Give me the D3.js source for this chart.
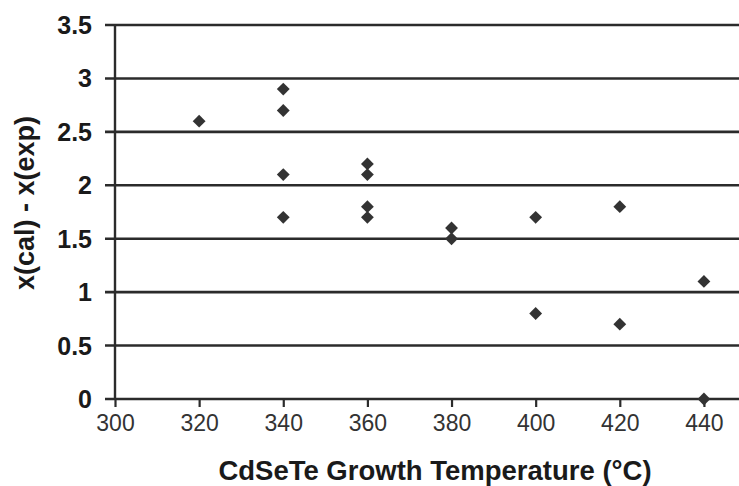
<!DOCTYPE html>
<html>
<head>
<meta charset="utf-8">
<script src="https://cdn.jsdelivr.net/npm/d3@7"></script>
<style>
  html, body { margin: 0; padding: 0; background: #fff; }
  svg { display: block; font-family: Arial, "Liberation Sans", Helvetica, sans-serif; }
</style>
</head>
<body>
<svg id="chart" width="739" height="486"></svg>
<script>
// Data
const temperatures = [320, 340, 340, 340, 340, 360, 360, 360, 360, 380, 380, 400, 400, 420, 420, 440, 440];
const differences  = [2.6, 2.9, 2.7, 2.1, 1.7, 2.2, 2.1, 1.8, 1.7, 1.6, 1.5, 1.7, 0.8, 1.8, 0.7, 1.1, 0.0];
const xTicks = [300, 320, 340, 360, 380, 400, 420, 440];
const yTicks = [0, 0.5, 1, 1.5, 2, 2.5, 3, 3.5];
const xTitle = "CdSeTe Growth Temperature (\u00B0C)";
const yTitle = "x(cal) - x(exp)";

const svg = d3.select("#chart");
const x = d3.scaleLinear().domain([300, 450]).range([115, 746]);
const y = d3.scaleLinear().domain([0, 3.5]).range([399, 25]);

// horizontal gridlines
svg.append("g").selectAll("line").data(yTicks).join("line")
  .attr("x1", x(300) - 10).attr("x2", x(450))
  .attr("y1", d => y(d)).attr("y2", d => y(d))
  .attr("stroke", "#2b2b2b").attr("stroke-width", 2.6);

// y axis line
svg.append("line")
  .attr("x1", x(300)).attr("x2", x(300))
  .attr("y1", y(3.5)).attr("y2", y(0) + 1)
  .attr("stroke", "#2b2b2b").attr("stroke-width", 2.4);

// y tick labels
svg.append("g").selectAll("text").data(yTicks).join("text")
  .attr("x", 92).attr("y", d => y(d)).attr("dy", "0.36em")
  .attr("text-anchor", "end")
  .attr("font-size", 25).attr("font-weight", "bold").attr("fill", "#1a1a1a")
  .text(d => d3.format("")(d));

// x ticks
const xAxis = d3.axisBottom(x).tickValues(xTicks).tickSize(8).tickPadding(8).tickFormat(d3.format("d"));
const gx = svg.append("g").attr("transform", `translate(0,${y(0)})`).call(xAxis);
gx.select(".domain").remove();
gx.selectAll(".tick line").attr("stroke", "#2b2b2b").attr("stroke-width", 2.2);
gx.selectAll(".tick text")
  .attr("font-size", 23).attr("fill", "#333")
  .attr("font-family", "Arial, 'Liberation Sans', sans-serif");

// points (diamonds)
const sym = d3.symbol().type(d3.symbolDiamond2).size(105);
svg.append("g").selectAll("path").data(temperatures).join("path")
  .attr("transform", (d, i) => `translate(${x(d)},${y(differences[i])})`)
  .attr("d", sym)
  .attr("fill", "#333");

// axis titles
svg.append("text")
  .attr("x", 435).attr("y", 480)
  .attr("text-anchor", "middle")
  .attr("font-size", 27.5).attr("font-weight", "bold").attr("fill", "#1a1a1a")
  .text(xTitle);

svg.append("text")
  .attr("transform", "translate(34,203) rotate(-90)")
  .attr("text-anchor", "middle")
  .attr("font-size", 27).attr("font-weight", "bold").attr("fill", "#1a1a1a")
  .text(yTitle);
</script>
</body>
</html>
